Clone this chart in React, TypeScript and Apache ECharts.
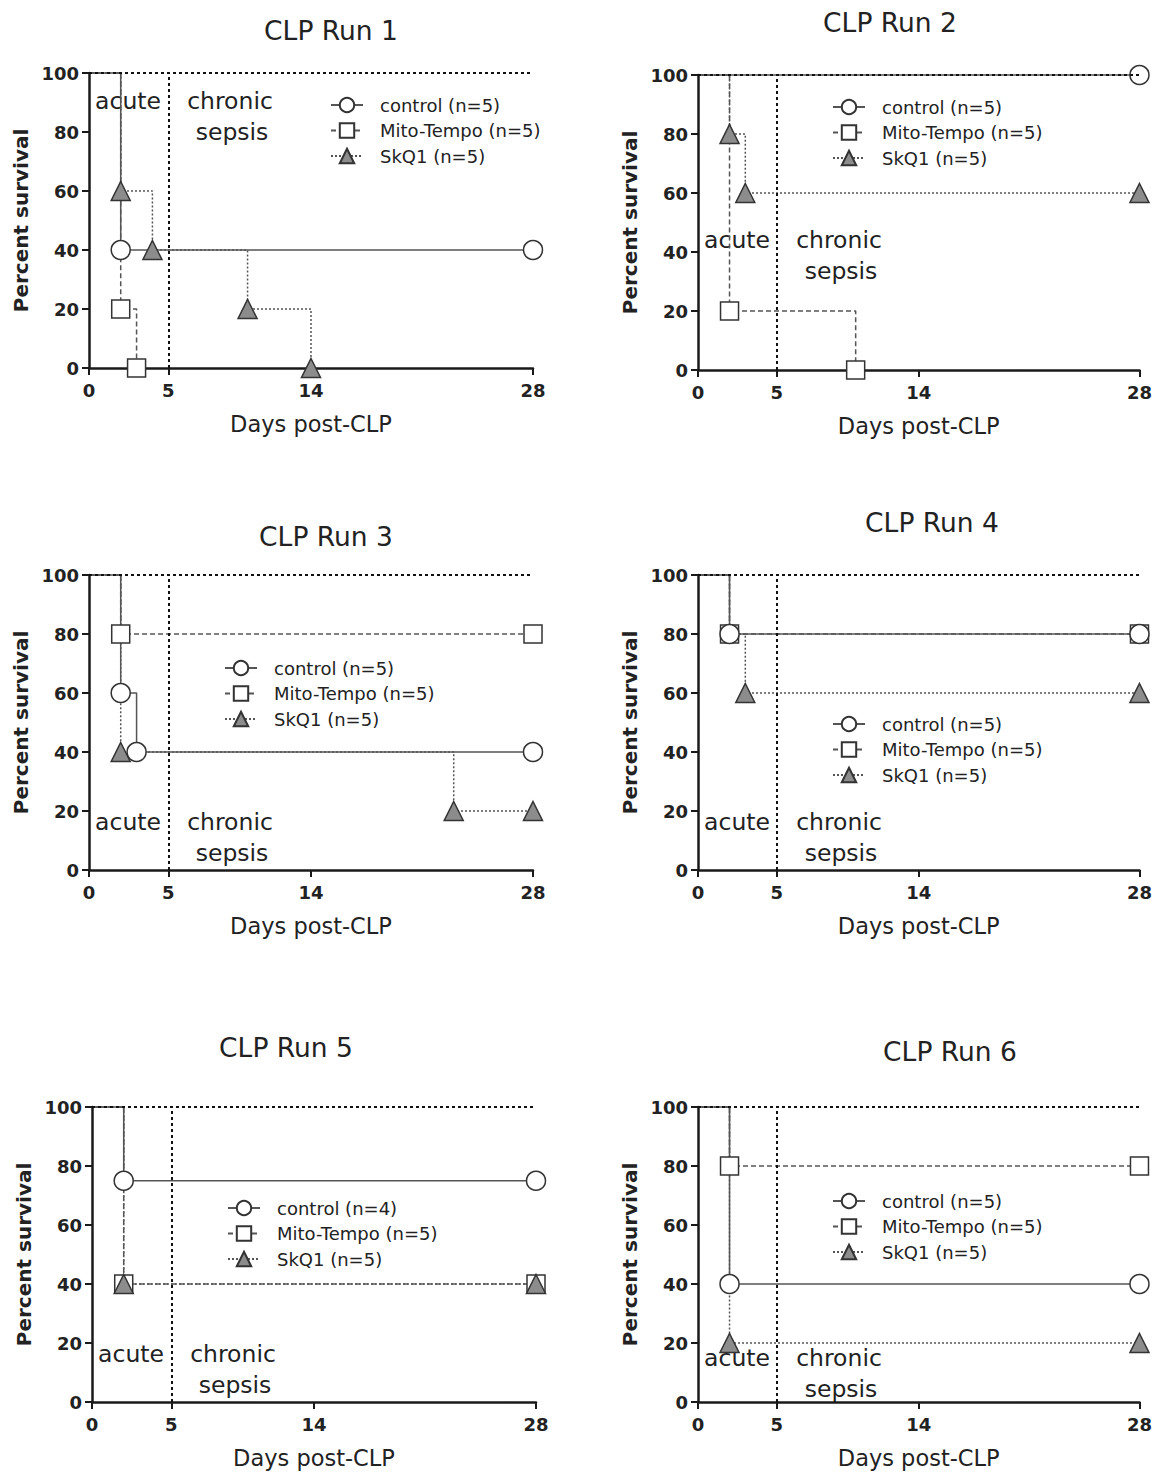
import React, { useEffect, useRef } from "react";
import * as echarts from "echarts";

// ---------- data ----------
const X_TICKS = [0, 5, 14, 28];
const RUN_TITLES = ["CLP Run 1", "CLP Run 2", "CLP Run 3", "CLP Run 4", "CLP Run 5", "CLP Run 6"];
const CONTROL_NAMES = ["control (n=5)", "control (n=5)", "control (n=5)", "control (n=5)", "control (n=4)", "control (n=5)"];
const MITO_NAME = "Mito-Tempo (n=5)";
const SKQ1_NAME = "SkQ1 (n=5)";

// [day, percent survival]
const run1Control = [[0, 100], [2, 40], [28, 40]];
const run1Mito = [[0, 100], [2, 20], [3, 0]];
const run1SkQ1 = [[0, 100], [2, 60], [4, 40], [10, 20], [14, 0]];

const run2Control = [[0, 100], [28, 100]];
const run2Mito = [[0, 100], [2, 20], [10, 0]];
const run2SkQ1 = [[0, 100], [2, 80], [3, 60], [28, 60]];

const run3Control = [[0, 100], [2, 60], [3, 40], [28, 40]];
const run3Mito = [[0, 100], [2, 80], [28, 80]];
const run3SkQ1 = [[0, 100], [2, 40], [23, 20], [28, 20]];

const run4Control = [[0, 100], [2, 80], [28, 80]];
const run4Mito = [[0, 100], [2, 80], [28, 80]];
const run4SkQ1 = [[0, 100], [2, 80], [3, 60], [28, 60]];

const run5Control = [[0, 100], [2, 75], [28, 75]];
const run5Mito = [[0, 100], [2, 40], [28, 40]];
const run5SkQ1 = [[0, 100], [2, 40], [28, 40]];

const run6Control = [[0, 100], [2, 40], [28, 40]];
const run6Mito = [[0, 100], [2, 80], [28, 80]];
const run6SkQ1 = [[0, 100], [2, 20], [28, 20]];

const CONTROL_DATA = [run1Control, run2Control, run3Control, run4Control, run5Control, run6Control];
const MITO_DATA = [run1Mito, run2Mito, run3Mito, run4Mito, run5Mito, run6Mito];
const SKQ1_DATA = [run1SkQ1, run2SkQ1, run3SkQ1, run4SkQ1, run5SkQ1, run6SkQ1];

// markers hidden beneath other symbols (run index 0-based, series, day)
const HIDDEN_MARKERS = [{ run: 3, series: "skq1", day: 2 }];

// ---------- layout ----------
const FONT = "'DejaVu Sans', Verdana, sans-serif";
const GRIDS = [
  { left: 89, top: 73, width: 444, height: 295 },
  { left: 698, top: 75, width: 443, height: 295 },
  { left: 89, top: 575, width: 444, height: 295 },
  { left: 698, top: 575, width: 443, height: 295 },
  { left: 92, top: 1107, width: 444, height: 295 },
  { left: 698, top: 1107, width: 443, height: 295 },
];
const TITLE_POS = [
  [331, 30], [890, 22], [326, 536], [932, 522], [286, 1047], [950, 1051],
];
const LEGEND_POS = [
  [330, 96], [832, 98], [224, 659], [832, 715], [227, 1199], [832, 1192],
];
const ANNOT_Y = [101, 240, 822, 822, 1354, 1358];

const AXIS_COLOR = "#1a1a1a";
const LINE_COLOR = "#555";

function buildOption() {
  const grid: any[] = [];
  const xAxis: any[] = [];
  const yAxis: any[] = [];
  const series: any[] = [];
  const legend: any[] = [];
  const graphic: any[] = [];

  GRIDS.forEach((g, i) => {
    grid.push({ ...g, containLabel: false });
    xAxis.push({
      gridIndex: i,
      type: "value",
      min: 0,
      max: 28,
      name: "Days post-CLP",
      nameLocation: "middle",
      nameGap: 44,
      nameTextStyle: { fontSize: 22.5, color: "#222", fontFamily: FONT },
      axisLine: { show: true, onZero: false, lineStyle: { color: AXIS_COLOR, width: 2.5 } },
      axisTick: { show: true, inside: false, length: 7, customValues: X_TICKS, lineStyle: { color: AXIS_COLOR, width: 2 } },
      axisLabel: {
        customValues: X_TICKS,
        margin: 13,
        fontSize: 18,
        fontWeight: "bold",
        color: "#222",
        fontFamily: FONT,
      },
      splitLine: { show: false },
    });
    yAxis.push({
      gridIndex: i,
      type: "value",
      min: 0,
      max: 100,
      interval: 20,
      name: "Percent survival",
      nameLocation: "middle",
      nameGap: 58,
      nameTextStyle: { fontSize: 20, fontWeight: "bold", color: "#222", fontFamily: FONT },
      axisLine: { show: true, onZero: false, lineStyle: { color: AXIS_COLOR, width: 2.5 } },
      axisTick: { show: true, inside: false, length: 7, lineStyle: { color: AXIS_COLOR, width: 2 } },
      axisLabel: { margin: 10, fontSize: 18, fontWeight: "bold", color: "#222", fontFamily: FONT },
      splitLine: { show: false },
    });

    const mk = (key: string, name: string, pts: number[][], symbol: string, symbolSize: number, fill: string, lineType: any) => {
      const data = pts.map((p, j) => {
        const hidden =
          j === 0 || HIDDEN_MARKERS.some((h) => h.run === i && h.series === key && h.day === p[0]);
        return hidden ? { value: p, symbol: "none" } : { value: p };
      });
      return {
        type: "line",
        name,
        xAxisIndex: i,
        yAxisIndex: i,
        step: "end",
        data,
        symbol,
        symbolSize,
        showAllSymbol: true,
        clip: false,
        itemStyle: { color: fill, borderColor: "#333", borderWidth: 1.5, opacity: 1 },
        lineStyle: { color: LINE_COLOR, width: 1.5, type: lineType },
        emphasis: { disabled: true },
      };
    };

    series.push(mk("mito", MITO_NAME, MITO_DATA[i], "rect", 18, "#fff", [5, 3]));
    series.push(mk("skq1", SKQ1_NAME, SKQ1_DATA[i], "triangle", 19, "#8c8c8c", [2, 2]));
    const ctrl: any = mk("control", CONTROL_NAMES[i], CONTROL_DATA[i], "circle", 19, "#fff", "solid");
    ctrl.markLine = {
      silent: true,
      symbol: "none",
      label: { show: false },
      lineStyle: { type: [3, 3], color: "#111", width: 2 },
      data: [{ yAxis: 100 }, { xAxis: 5 }],
    };
    series.push(ctrl);

    legend.push({
      data: [CONTROL_NAMES[i], MITO_NAME, SKQ1_NAME],
      orient: "vertical",
      left: LEGEND_POS[i][0],
      top: LEGEND_POS[i][1],
      itemWidth: 32,
      itemHeight: 18,
      itemGap: 7.5,
      padding: 0,
      selectedMode: false,
      textStyle: { fontSize: 18, color: "#222", fontFamily: FONT, padding: [0, 0, 0, 12] },
    });

    const [tx, ty] = TITLE_POS[i];
    graphic.push({
      type: "text",
      x: tx,
      y: ty,
      style: { text: RUN_TITLES[i], fontSize: 26.5, fill: "#222", fontFamily: FONT, textAlign: "center", textVerticalAlign: "middle" },
    });
    const ay = ANNOT_Y[i];
    const gx = g.left;
    const annStyle = { fontSize: 23.5, fill: "#222", fontFamily: FONT, textAlign: "center", textVerticalAlign: "middle" };
    graphic.push({ type: "text", x: gx + 39, y: ay, style: { ...annStyle, text: "acute" } });
    graphic.push({ type: "text", x: gx + 141, y: ay, style: { ...annStyle, text: "chronic" } });
    graphic.push({ type: "text", x: gx + 143, y: ay + 31, style: { ...annStyle, text: "sepsis" } });
  });

  return {
    animation: false,
    backgroundColor: "#fff",
    textStyle: { fontFamily: FONT },
    grid,
    xAxis,
    yAxis,
    series,
    legend,
    graphic,
  };
}

export default function App() {
  const ref = useRef<HTMLDivElement>(null);
  useEffect(() => {
    if (!ref.current) return;
    const chart = echarts.init(ref.current, null, { renderer: "svg" });
    chart.setOption(buildOption() as any);
    return () => chart.dispose();
  }, []);
  return (
    <div
      ref={ref}
      style={{ position: "absolute", left: 0, top: 0, width: 1155, height: 1472, background: "#fff" }}
    />
  );
}
